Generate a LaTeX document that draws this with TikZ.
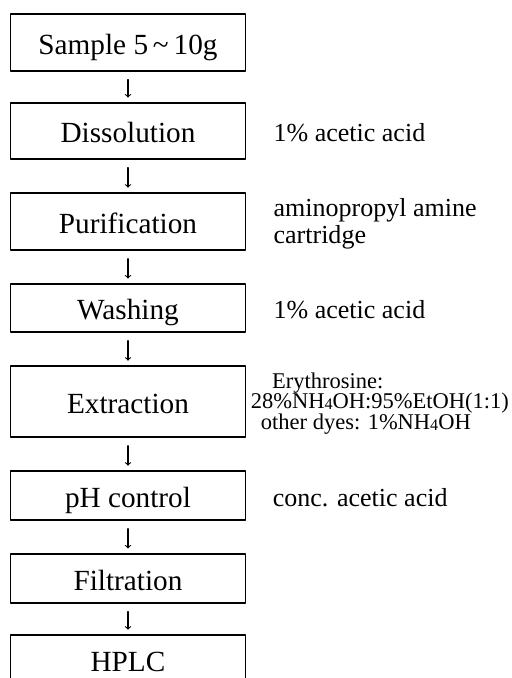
\documentclass[tikz,border=0pt]{standalone}
\usepackage{fontspec}
\setmainfont{Liberation Serif}
\usetikzlibrary{positioning}

\newcommand{\lowfour}{\raisebox{-0.12ex}{\fontsize{11.5}{11.5}\selectfont 4}}

\begin{document}
\begin{tikzpicture}[
  line cap=round,
  line join=round,
  stepbox/.style={draw, line width=0.9pt, minimum width=5.875cm, inner sep=0pt,
    text height=16.6pt, text depth=0pt, font=\fontsize{20.8}{24}\selectfont},
  note/.style={inner sep=0pt, align=left, font=\fontsize{18.5}{19.2}\selectfont},
  smallnote/.style={inner sep=0pt, align=left, font=\fontsize{16}{14.6}\selectfont},
  flow/.style={-to, line width=0.75pt, shorten <=0.2cm, shorten >=0.12cm}
]
  \useasboundingbox (0,0) rectangle (12.8,-16.95);

  % steps
  \node[stepbox, minimum height=1.425cm] (sample)  at (3.2,-1.06)  {Sample 5\,\textasciitilde\,10g};
  \node[stepbox, minimum height=1.4cm]   (dissol)  at (3.2,-3.275) {Dissolution};
  \node[stepbox, minimum height=1.425cm] (purif)   at (3.2,-5.54)  {Purification};
  \node[stepbox, minimum height=1.2cm]   (wash)    at (3.2,-7.7)   {Washing};
  \node[stepbox, minimum height=1.775cm] (extract) at (3.2,-10.04) {Extraction};
  \node[stepbox, minimum height=1.225cm] (phctrl)  at (3.2,-12.39) {pH control};
  \node[stepbox, minimum height=1.225cm] (filtr)   at (3.2,-14.46) {Filtration};
  \node[stepbox, minimum height=1.225cm] (hplc)    at (3.2,-16.49) {HPLC};

  % reagents
  \node[note, right=0.68cm of dissol, yshift=-0.05cm] (dissolnote) {1\% acetic acid};
  \node[note, right=0.68cm of purif, yshift=-0.05cm]  (purifnote)  {aminopropyl amine\\cartridge};
  \node[note, right=0.68cm of wash, yshift=-0.05cm]   (washnote)   {1\% acetic acid};
  \node[smallnote, right=0.11cm of extract, yshift=-0.04cm] (extractnote)
    {\hspace*{0.95em}Erythrosine:\\28\%NH\lowfour OH:95\%EtOH(1:1)\\\hspace*{0.45em}other dyes: 1\%NH\lowfour OH};
  \node[note, right=0.66cm of phctrl, yshift=-0.04cm] (phnote)     {conc. acetic acid};

  \draw[flow] (sample)  -- (dissol);
  \draw[flow] (dissol)  -- (purif);
  \draw[flow] (purif)   -- (wash);
  \draw[flow] (wash)    -- (extract);
  \draw[flow] (extract) -- (phctrl);
  \draw[flow] (phctrl)  -- (filtr);
  \draw[flow] (filtr)   -- (hplc);
\end{tikzpicture}
\end{document}
